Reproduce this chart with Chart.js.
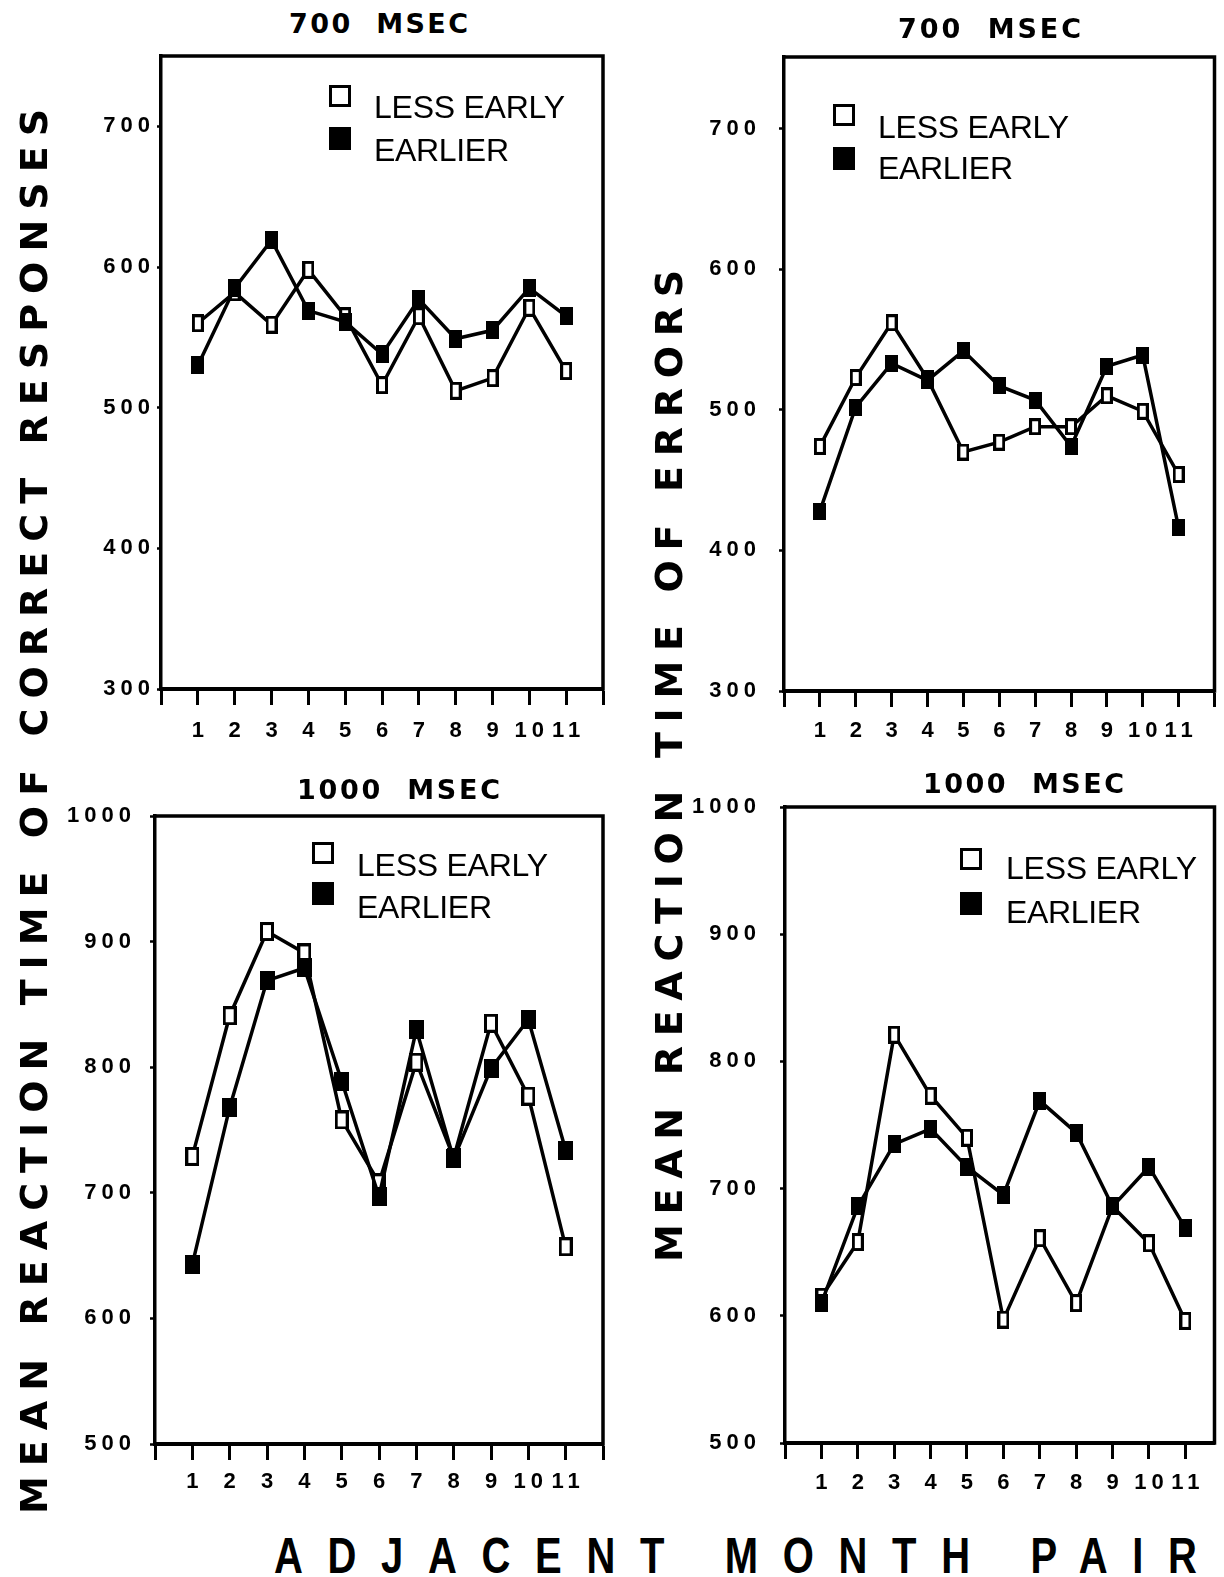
<!DOCTYPE html>
<html>
<head>
<meta charset="utf-8">
<title>Mean reaction time by adjacent month pair</title>
<script src="https://cdn.jsdelivr.net/npm/chart.js@4.4.1/dist/chart.umd.min.js"></script>
<style>
  html, body { margin: 0; padding: 0; background: #fff; }
  body { width: 1224px; height: 1577px; position: relative; overflow: hidden; }
  canvas { position: absolute; }
  .t { position: absolute; white-space: pre; color: #000; line-height: 1; margin: 0; }
  .sq { position: absolute; box-sizing: border-box; }
  .sq.open { background: #fff; border: 3px solid #000; }
  .sq.filled { background: #000; }
</style>
</head>
<body>
<canvas id="c700correct"></canvas>
<canvas id="c700errors"></canvas>
<canvas id="c1000correct"></canvas>
<canvas id="c1000errors"></canvas>

<script>
// ---- data ----
const pairs = [1, 2, 3, 4, 5, 6, 7, 8, 9, 10, 11];

// 700 msec, correct responses
const correct700Less    = [560, 582, 559, 598, 565, 516, 565, 512, 521, 571, 526];
const correct700Earlier = [530, 585, 619, 569, 561, 538, 577, 549, 555, 585, 565];

// 700 msec, errors
const errors700Less    = [474, 523, 562, 522, 470, 477, 488, 488, 510, 499, 454];
const errors700Earlier = [428, 502, 533, 521, 542, 517, 507, 474, 531, 539, 416];

// 1000 msec, correct responses
const correct1000Less    = [729, 841, 908, 891, 758, 708, 804, 728, 835, 777, 657];
const correct1000Earlier = [643, 768, 869, 879, 789, 697, 830, 727, 799, 838, 734];

// 1000 msec, errors
const errors1000Less    = [615, 658, 821, 773, 740, 597, 661, 610, 686, 657, 596];
const errors1000Earlier = [610, 686, 735, 747, 717, 695, 769, 744, 686, 717, 669];

const yTicks700  = [300, 400, 500, 600, 700];
const yTicks1000 = [500, 600, 700, 800, 900, 1000];
const seriesNames = ['LESS EARLY', 'EARLIER'];
const panelTitles = ['700  MSEC', '700  MSEC', '1000  MSEC', '1000  MSEC'];
const yAxisTitleCorrect = 'MEAN REACTION TIME OF CORRECT RESPONSES';
const yAxisTitleErrors  = 'MEAN REACTION TIME OF ERRORS';
const xAxisTitle = 'ADJACENT MONTH PAIR';

// ---- markers: tall rectangles, open and filled ----
function rectMarker(w, h, filled) {
  const c = document.createElement('canvas');
  c.width = w; c.height = h;
  const g = c.getContext('2d');
  g.fillStyle = '#000';
  g.fillRect(0, 0, w, h);
  if (!filled) {
    g.fillStyle = '#fff';
    g.fillRect(3, 3, w - 6, h - 6);
  }
  return c;
}

// ---- frame on top/right + spaced tick digits ----
const TICK_SPACING = 5;
const framePlugin = {
  id: 'frame',
  beforeDraw(chart) {
    chart.ctx.letterSpacing = TICK_SPACING + 'px';
  },
  afterDraw(chart) {
    const { ctx, chartArea: a } = chart;
    ctx.save();
    ctx.strokeStyle = '#000';
    ctx.lineWidth = 3.5;
    ctx.lineCap = 'square';
    ctx.beginPath();
    ctx.moveTo(a.left, a.top);
    ctx.lineTo(a.right, a.top);
    ctx.lineTo(a.right, a.bottom);
    ctx.stroke();
    ctx.restore();
  }
};

function buildPanel(id, box, area, yMin, yMax, yTicks, xMax, xTickMax, lessVals, earlierVals, cfg) {
  const canvas = document.getElementById(id);
  canvas.width = box.w; canvas.height = box.h;
  canvas.style.left = box.x + 'px';
  canvas.style.top = box.y + 'px';
  canvas.style.width = box.w + 'px';
  canvas.style.height = box.h + 'px';

  const yWidth = area.l - box.x;
  const xHeight = box.y + box.h - area.b;
  const tickFont = { family: "'Liberation Sans', Arial, sans-serif", size: 22, weight: 'bold' };

  const toPoints = vals => pairs.map((p, i) => ({ x: p, y: vals[i] }));

  return new Chart(canvas, {
    type: 'line',
    data: {
      datasets: [
        {
          label: seriesNames[0],
          data: toPoints(lessVals),
          order: 2,
          borderColor: '#000',
          borderWidth: 3.5,
          tension: 0,
          pointStyle: rectMarker(cfg.mw, cfg.mh, false),
          pointRadius: 6
        },
        {
          label: seriesNames[1],
          data: toPoints(earlierVals),
          order: 1,
          borderColor: '#000',
          borderWidth: 3.5,
          tension: 0,
          pointStyle: rectMarker(cfg.mw + 1, cfg.mh, true),
          pointRadius: 6
        }
      ]
    },
    options: {
      responsive: false,
      animation: false,
      events: [],
      devicePixelRatio: 1,
      layout: {
        padding: { top: area.t - box.y, right: box.x + box.w - area.r, bottom: 0, left: 0 }
      },
      plugins: { legend: { display: false }, tooltip: { enabled: false }, title: { display: false } },
      scales: {
        x: {
          type: 'linear',
          min: 0,
          max: xMax,
          afterBuildTicks(scale) {
            const t = [];
            for (let v = 0; v <= xTickMax; v++) t.push({ value: v });
            scale.ticks = t;
          },
          afterFit(scale) {
            scale.height = xHeight;
            scale.paddingLeft = 0; scale.paddingRight = 0;
            scale.paddingTop = 0; scale.paddingBottom = 0;
          },
          ticks: {
            autoSkip: false,
            maxRotation: 0,
            color: '#000',
            font: tickFont,
            padding: cfg.xPad,
            labelOffset: TICK_SPACING / 2,
            callback: v => (pairs.includes(v) ? String(v) : '')
          },
          grid: {
            display: true,
            drawOnChartArea: false,
            drawTicks: true,
            tickLength: 16,
            tickWidth: 3,
            tickColor: '#000'
          },
          border: { display: true, color: '#000', width: 4 }
        },
        y: {
          type: 'linear',
          min: yMin,
          max: yMax,
          afterBuildTicks(scale) { scale.ticks = yTicks.map(v => ({ value: v })); },
          afterFit(scale) {
            scale.width = yWidth;
            scale.paddingLeft = 0; scale.paddingRight = 0;
            scale.paddingTop = 0; scale.paddingBottom = 0;
          },
          ticks: {
            color: '#000',
            font: tickFont,
            padding: cfg.yPad,
            callback: v => String(v)
          },
          grid: {
            display: true,
            drawOnChartArea: false,
            drawTicks: true,
            tickLength: cfg.yTick,
            tickWidth: 2.5,
            tickColor: '#000'
          },
          border: { display: true, color: '#000', width: 3.5 }
        }
      }
    },
    plugins: [framePlugin]
  });
}

buildPanel('c700correct',
  { x: 60, y: 40, w: 560, h: 720 }, { l: 161, t: 56, r: 603, b: 689 },
  300, 750, yTicks700, 12, 12, correct700Less, correct700Earlier,
  { yPad: 2, yTick: 4, xPad: 13, mw: 12, mh: 18 });

buildPanel('c700errors',
  { x: 680, y: 40, w: 544, h: 720 }, { l: 784, t: 57, r: 1220, b: 691 },
  300, 751, yTicks700, 12, 12, errors700Less, errors700Earlier,
  { yPad: 18, yTick: 5, xPad: 11, mw: 12, mh: 17 });

buildPanel('c1000correct',
  { x: 40, y: 790, w: 580, h: 720 }, { l: 155, t: 816, r: 603, b: 1444 },
  500, 1000, yTicks1000, 12, 12, correct1000Less, correct1000Earlier,
  { yPad: 14, yTick: 5, xPad: 9, mw: 14, mh: 19 });

buildPanel('c1000errors',
  { x: 660, y: 790, w: 564, h: 720 }, { l: 785, t: 807, r: 1223, b: 1443 },
  500, 1000, yTicks1000, 11.8, 11, errors1000Less, errors1000Earlier,
  { yPad: 19, yTick: 5, xPad: 11, mw: 12, mh: 18 });

// ---- text: titles, legends, axis titles ----
const SANS = "'Liberation Sans', Arial, sans-serif";
const WIDE = "'DejaVu Sans', 'Liberation Sans', sans-serif";

// Places a line of text whose visible span runs from x0 for `span` px,
// with its baseline at `base`; rotated text reads bottom-to-top.
// `sx` squeezes the glyphs horizontally (1 = natural width).
function addText(str, fs, weight, family, x0, base, span, rotated, sx) {
  sx = sx || 1;
  const el = document.createElement('div');
  el.className = 't';
  el.textContent = str;
  el.style.fontSize = fs + 'px';
  el.style.fontWeight = weight;
  el.style.fontFamily = family;
  el.style.left = '0px';
  el.style.top = '0px';
  document.body.appendChild(el);
  const w = el.getBoundingClientRect().width;
  const n = Array.from(str).length;
  el.style.letterSpacing = ((span / sx - w) / (n - 1)) + 'px';
  el.style.transformOrigin = '0 0';
  if (!rotated) {
    el.style.left = x0 + 'px';
    el.style.top = (base - 0.8465 * fs) + 'px';
    if (sx !== 1) el.style.transform = 'scaleX(' + sx + ')';
  } else {
    el.style.transform = 'rotate(-90deg)';
    el.style.left = (base - 0.8465 * fs) + 'px';
    el.style.top = x0 + 'px';
  }
  return el;
}

function addSquare(x, y, w, h, filled) {
  const d = document.createElement('div');
  d.className = 'sq ' + (filled ? 'filled' : 'open');
  d.style.left = x + 'px'; d.style.top = y + 'px';
  d.style.width = w + 'px'; d.style.height = h + 'px';
  document.body.appendChild(d);
}

// panel titles
addText(panelTitles[0], 27, 'bold', WIDE, 289, 33, 179);
addText(panelTitles[1], 27, 'bold', WIDE, 898, 38, 183);
addText(panelTitles[2], 27, 'bold', WIDE, 297, 799, 203);
addText(panelTitles[3], 27, 'bold', WIDE, 923, 793, 201);

// legends
const legends = [
  { sx: 329, oy: 85,  fy: 127, tx: 374, b1: 118, b2: 161 },
  { sx: 833, oy: 104, fy: 147, tx: 878, b1: 138, b2: 179 },
  { sx: 312, oy: 842, fy: 882, tx: 357, b1: 876, b2: 918 },
  { sx: 960, oy: 848, fy: 892, tx: 1006, b1: 879, b2: 923 }
];
legends.forEach(L => {
  addSquare(L.sx, L.oy, 22, 22, false);
  addSquare(L.sx, L.fy, 22, 23, true);
  addText(seriesNames[0], 32, 'normal', SANS, L.tx, L.b1, 191);
  addText(seriesNames[1], 32, 'normal', SANS, L.tx, L.b2, 135);
});

// shared axis titles
addText(yAxisTitleCorrect, 38, 'bold', WIDE, 1514, 47, 1405, true);
addText(yAxisTitleErrors, 38, 'bold', WIDE, 1262, 682, 992, true);
addText(xAxisTitle, 50, 'bold', SANS, 274, 1573, 923, false, 0.8);
</script>
</body>
</html>
